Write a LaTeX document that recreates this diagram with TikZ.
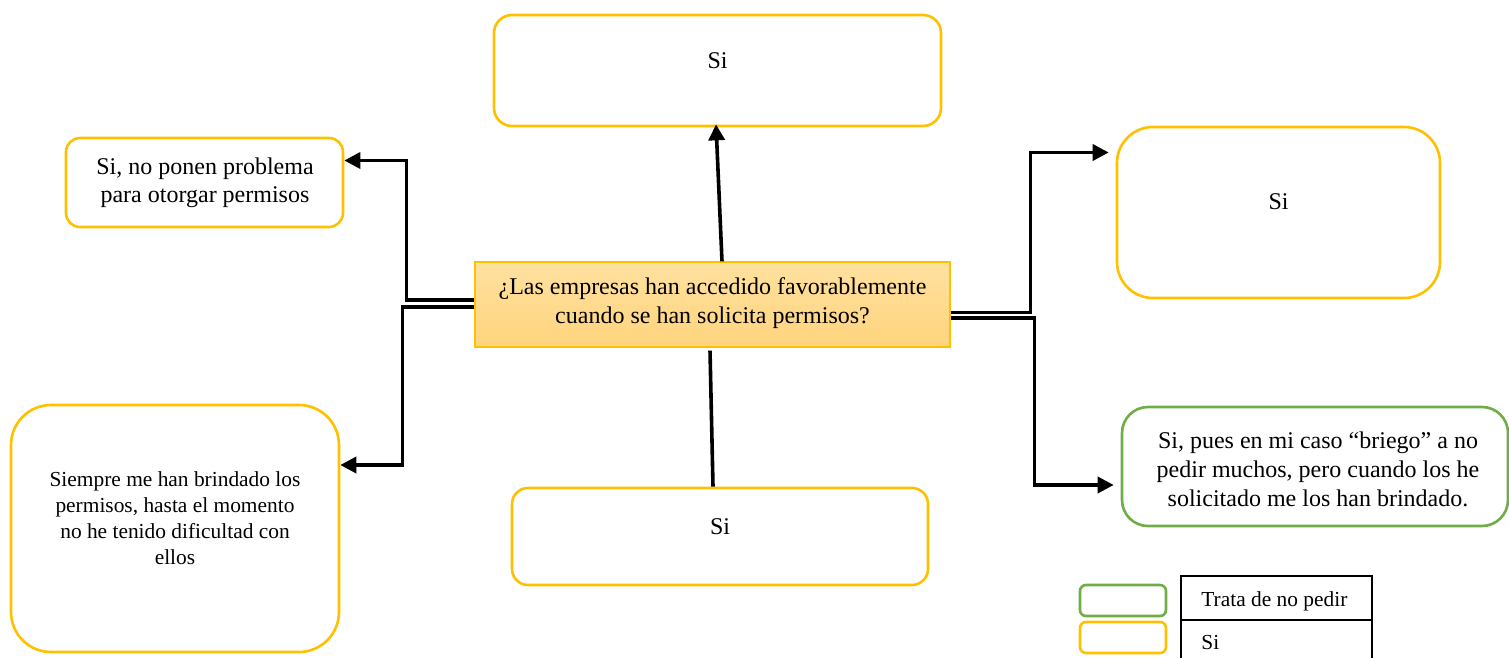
\documentclass[tikz,border=0pt]{standalone}
\usepackage{fontspec}
\setmainfont{Liberation Serif}
\usetikzlibrary{arrows.meta,calc}
\definecolor{ygold}{RGB}{255,192,0}
\definecolor{ggreen}{RGB}{112,173,71}
\definecolor{ctop}{RGB}{255,225,160}
\definecolor{cbot}{RGB}{255,212,125}
\begin{document}
\begin{tikzpicture}[x=0.5pt,y=-0.5pt,
  ybox/.style={draw=ygold,line width=1.3pt,inner sep=0pt},
  gbox/.style={draw=ggreen,line width=1.3pt,inner sep=0pt},
  txt/.style={font=\fontsize{12}{14.5}\selectfont,align=center,inner sep=0pt},
  smalltxt/.style={font=\fontsize{10.7}{13}\selectfont,align=center,inner sep=0pt},
  legtxt/.style={font=\fontsize{10.7}{13}\selectfont,anchor=west,inner sep=0pt},
  conn/.style={line width=1.8pt,draw=black},
  arr/.style={conn,-{Triangle[length=8pt,width=8pt]}}]
\useasboundingbox (0,0) rectangle (1509,658);

% center box
\node[draw=ygold,line width=0.6pt,top color=ctop,bottom color=cbot,
  minimum width=237.5pt,minimum height=42.5pt,inner sep=0pt] (c) at (712.5,304.5) {};
\node[txt] (ct) at (712.5,303) {¿Las empresas han accedido favorablemente\\cuando se han solicita permisos?};

% boxes
\node[ybox,rounded corners=9pt,minimum width=223.5pt,minimum height=55.5pt] (top) at (717.5,70.5) {};
\node[txt] (topt) at (717.5,61) {Si};

\node[ybox,rounded corners=7pt,minimum width=138.5pt,minimum height=44.5pt] (lt) at (204.5,182.5) {};
\node[txt,font=\fontsize{12}{14}\selectfont] (ltt) at (205,183) {Si, no ponen problema\\para otorgar permisos};

\node[ybox,rounded corners=18pt,minimum width=161.5pt,minimum height=85.5pt] (rt) at (1278.5,212.5) {};
\node[txt] (rtt) at (1278.5,202) {Si};

\node[ybox,rounded corners=20pt,minimum width=164pt,minimum height=123.5pt] (lb) at (175,528.5) {};
\node[smalltxt] (lbt) at (175,518) {Siempre me han brindado los\\permisos, hasta el momento\\no he tenido dificultad con\\ellos};

\node[ybox,rounded corners=8pt,minimum width=208pt,minimum height=48.5pt] (bt) at (720,536.5) {};
\node[txt] (btt) at (720,527) {Si};

\node[gbox,rounded corners=13pt,minimum width=193pt,minimum height=59.5pt] (gr) at (1315,466.5) {};
\node[txt] (grt) at (1318,469) {Si, pues en mi caso “briego” a no\\pedir muchos, pero cuando los he\\solicitado me los han brindado.};

% connectors
\draw[arr] ([xshift=4.75pt]c.north) -- ([xshift=-0.75pt,yshift=1.5pt]top.south);
\draw[conn] ([xshift=-1.25pt,yshift=-1.5pt]c.south) -- ([xshift=-3.5pt]bt.north);
\draw[arr] ([yshift=2.25pt]c.west) -- ++(-68,0) |- ([yshift=11pt]lt.east);
\draw[arr] ([yshift=-1.25pt]c.west) -- ++(-72,0) |- ([yshift=31.75pt]lb.east);
\draw[arr] ([yshift=-4pt]c.east) -- ++(80,0) |- ([xshift=-3.5pt,yshift=30pt]rt.west);
\draw[arr] ([yshift=-6.6pt]c.east) -- ++(84,0) |- ([xshift=-3.5pt,yshift=-9.25pt]gr.west);

% legend
\node[gbox,rounded corners=3pt,minimum width=43pt,minimum height=15.5pt] (lg) at (1123,600.5) {};
\node[ybox,rounded corners=3pt,minimum width=43pt,minimum height=15.5pt] (ly) at (1123,637.5) {};
\draw[line width=0.6pt] (1181,658) -- (1181,576) -- (1372,576) -- (1372,658);
\draw[line width=0.6pt] (1181,620) -- (1372,620);
\node[legtxt] (l1) at (1201,601) {Trata de no pedir};
\node[legtxt] (l2) at (1201,643) {Si};
\end{tikzpicture}
\end{document}
